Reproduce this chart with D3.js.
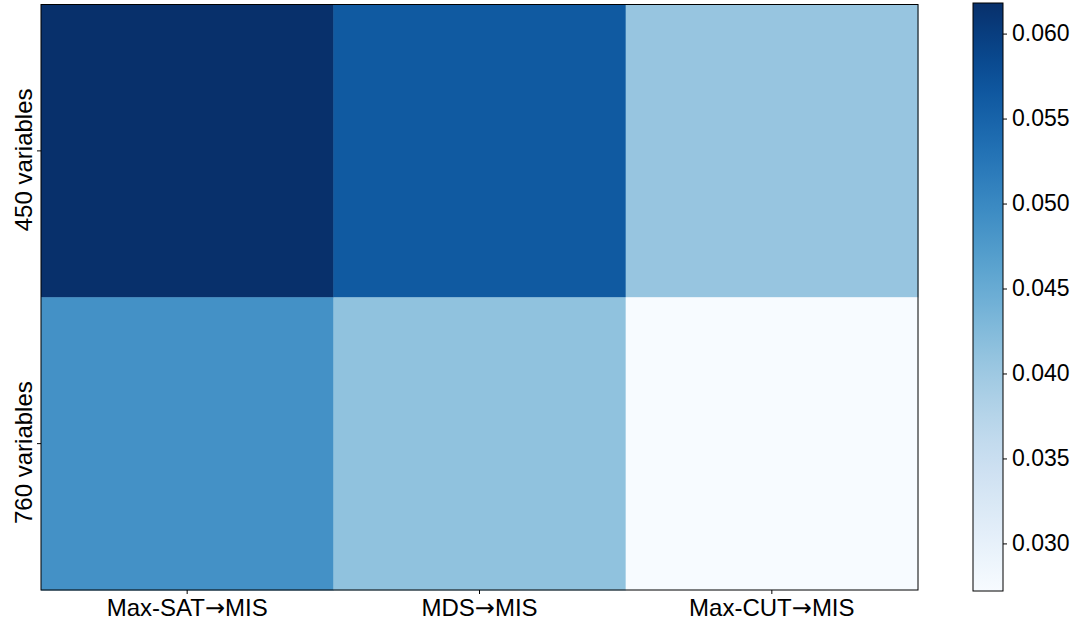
<!DOCTYPE html>
<html>
<head>
<meta charset="utf-8">
<script src="https://cdn.jsdelivr.net/npm/d3@7"></script>
<style>
    body { margin: 0; background: #fff; }
    text { font-family: "Liberation Sans", Arial, sans-serif; fill: #000; }
    .arrow { font-family: "DejaVu Sans", sans-serif; }
</style>
</head>
<body>
<svg id="chart" width="1077" height="623"></svg>
<script>
var columns = ['Max-SAT\u2192MIS', 'MDS\u2192MIS', 'Max-CUT\u2192MIS'];
var rows = ['450 variables', '760 variables'];
var values = [
    [0.0618, 0.0563, 0.0407],
    [0.0488, 0.0413, 0.0272]
];
var colorDomain = [0.0272, 0.0618];
var colorTicks = [0.030, 0.035, 0.040, 0.045, 0.050, 0.055, 0.060];

var svg = d3.select('#chart');
var margin = {left: 41, top: 4.5, right: 918, bottom: 590};

var x = d3.scaleBand().domain(columns).range([margin.left, margin.right]);
var y = d3.scaleBand().domain(rows).range([margin.top, margin.bottom]);
var color = d3.scaleSequential(d3.interpolateBlues).domain(colorDomain);

var cells = [];
values.forEach(function(row, i) {
    row.forEach(function(v, j) {
        cells.push({row: rows[i], col: columns[j], value: v});
    });
});

svg.append('g').selectAll('rect')
    .data(cells)
    .enter()
    .append('rect')
    .attr('x', d => x(d.col))
    .attr('y', d => y(d.row))
    .attr('width', x.bandwidth() + 0.5)
    .attr('height', y.bandwidth() + 0.5)
    .attr('fill', d => color(d.value));

svg.append('rect')
    .attr('x', margin.left)
    .attr('y', margin.top)
    .attr('width', margin.right - margin.left)
    .attr('height', margin.bottom - margin.top)
    .attr('fill', 'none')
    .attr('stroke', '#000')
    .attr('stroke-width', 1);

var gX = svg.append('g')
    .attr('transform', 'translate(0,' + margin.bottom + ')')
    .call(d3.axisBottom(x).tickSize(4).tickPadding(5));
gX.select('.domain').remove();

// split labels so the arrow can use a wider glyph
gX.selectAll('.tick text')
    .attr('font-size', 24)
    .text(null)
    .each(function(d) {
        var parts = d.split('\u2192');
        var t = d3.select(this);
        t.append('tspan').text(parts[0]);
        t.append('tspan').attr('class', 'arrow').text('\u2192');
        t.append('tspan').text(parts[1]);
    });

var gY = svg.append('g')
    .attr('transform', 'translate(' + margin.left + ',0)')
    .call(d3.axisLeft(y).tickSize(4).tickFormat(''));
gY.select('.domain').remove();

gY.selectAll('.tick').append('text')
    .attr('transform', 'rotate(-90)')
    .attr('x', -9)
    .attr('y', -9)
    .attr('text-anchor', 'middle')
    .attr('font-size', 24)
    .text(d => d);

// colour bar
var cb = {x: 973, w: 30, top: 3, bottom: 591};
var cy = d3.scaleLinear().domain(colorDomain).range([cb.bottom, cb.top]);

var defs = svg.append('defs');
var grad = defs.append('linearGradient')
    .attr('id', 'cbgrad')
    .attr('x1', 0).attr('y1', 1).attr('x2', 0).attr('y2', 0);
d3.range(0, 1.0001, 0.05).forEach(function(t) {
    grad.append('stop')
        .attr('offset', t)
        .attr('stop-color', d3.interpolateBlues(t));
});

svg.append('rect')
    .attr('x', cb.x)
    .attr('y', cb.top)
    .attr('width', cb.w)
    .attr('height', cb.bottom - cb.top)
    .attr('fill', 'url(#cbgrad)')
    .attr('stroke', '#000')
    .attr('stroke-width', 1);

var gC = svg.append('g')
    .attr('transform', 'translate(' + (cb.x + cb.w) + ',0)')
    .call(d3.axisRight(cy).tickValues(colorTicks).tickFormat(d3.format('.3f')).tickSize(4).tickPadding(5));
gC.select('.domain').remove();
gC.selectAll('text').attr('font-size', 23);
</script>
</body>
</html>
